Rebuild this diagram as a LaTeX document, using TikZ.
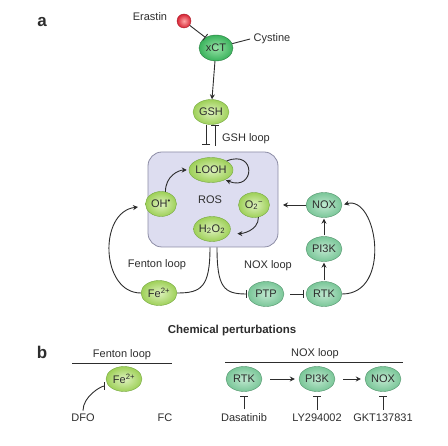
\documentclass[tikz,border=0pt]{standalone}
\usepackage{fontspec}
\setmainfont{Liberation Sans}
\usetikzlibrary{shapes.geometric, arrows.meta, positioning, calc}
\definecolor{cLeaf}{RGB}{158,208,88}
\definecolor{cLeafL}{RGB}{222,242,190}
\definecolor{cLeafD}{RGB}{118,168,66}
\definecolor{cTeal}{RGB}{122,198,152}
\definecolor{cTealL}{RGB}{192,232,208}
\definecolor{cTealD}{RGB}{82,148,108}
\definecolor{cXct}{RGB}{58,178,92}
\definecolor{cXctL}{RGB}{150,226,166}
\definecolor{cRos}{RGB}{221,221,240}
\definecolor{cRosD}{RGB}{140,140,165}
\definecolor{cInk}{RGB}{45,45,45}
\definecolor{cEra}{RGB}{214,36,52}
\definecolor{cEraL}{RGB}{255,165,165}
\tikzset{
	leaf/.style  ={ellipse, draw=cLeafD, inner color=cLeafL, outer color=cLeaf, minimum width=36pt, minimum height=25pt, inner sep=0pt},
	kin/.style   ={ellipse, draw=cTealD, inner color=cTealL, outer color=cTeal, minimum width=36pt, minimum height=25pt, inner sep=0pt},
	panel/.style ={font=\fontsize{17}{20}\selectfont\bfseries},
	sig/.style   ={-{Stealth[length=5pt, width=5pt]}, line width=0.9pt, draw=cInk},
	inh/.style   ={-{Bar[width=8pt, line width=0.9pt]}, line width=0.9pt, draw=cInk},
	rule/.style  ={line width=0.9pt, draw=cInk},
}
\begin{document}
\begin{tikzpicture}[x=1pt, y=-1pt, font=\fontsize{11}{13}\selectfont, text=cInk]
	\useasboundingbox (0,0) rectangle (448,446);
	% panel a
	\node[panel] (pa) at (42,22) {a};
	\node (era) at (150,17) {Erastin};
	\node[circle, inner sep=0pt, minimum size=14pt, draw=cEra!80!black, inner color=cEraL, outer color=cEra] (ball) at (184,21) {};
	\node[ellipse, draw=cXct!70!black, inner color=cXctL, outer color=cXct, minimum width=34pt, minimum height=26pt, inner sep=0pt] (xct) at (216,48) {xCT};
	\node (cys) at (272,39) {Cystine};
	\node[leaf] (gsh) at (211,112) {GSH};
	\node (gshl) at (246,139) {GSH loop};
	% ROS compartment
	\node[draw=cRosD, fill=cRos, rounded corners=14pt, minimum width=130pt, minimum height=95pt, line width=0.8pt] (ros) at (213,199.5) {};
	\node (rost) at (210,200) {ROS};
	\node[leaf] (looh) at (211,170) {LOOH};
	\node[leaf, minimum width=31pt] (oh) at (161,204) {OH\textsuperscript{•}};
	\node[leaf, minimum width=31pt] (o2) at (254,205) {O\textsubscript{2}\textsuperscript{−}};
	\node[leaf] (h2o2) at (212,229) {H\textsubscript{2}O\textsubscript{2}};
	% NOX loop
	\node[kin] (nox) at (324,205) {NOX};
	\node[kin] (pik) at (324,249) {PI3K};
	\node[kin] (rtk) at (324,294) {RTK};
	\node[kin] (ptp) at (266,294) {PTP};
	\node (noxl) at (268,266) {NOX loop};
	% Fenton loop
	\node[leaf] (fe) at (159,293) {Fe\textsuperscript{2+}};
	\node (fenl) at (157,265) {Fenton loop};
	\coordinate (fin) at (138,207);
	\coordinate (noxin) at (283,205);
	\coordinate (hl) at ([xshift=-2pt]h2o2.south |- ros.south);
	\coordinate (hr) at ([xshift=5pt]h2o2.south |- ros.south);

	\draw[inh] (ball) -- (xct.135);
	\draw[rule] (xct.15) -- (cys.west);
	\draw[sig] (xct) -- (gsh);
	\draw[inh, shorten >=7pt] ([xshift=-5pt]gsh.south) -- ([xshift=-5pt]gsh.south |- ros.north);
	\draw[inh, shorten <=6pt] ([xshift=4pt]gsh.south |- ros.north) -- ([xshift=4pt]gsh.south);
	\draw[sig, shorten >=1pt] (looh.30) .. controls +(30,-12) and +(30,12) .. (looh.-35);
	\draw[sig, shorten >=2pt] (oh.70) .. controls +(0,-16) and +(-10,0) .. (looh.west);
	\draw[sig, shorten >=8pt] (o2.-70) .. controls +(0,14) and +(12,0) .. (h2o2.-15);
	\draw[sig] (nox) -- (noxin);
	\draw[sig, shorten <=1pt, shorten >=1pt] (pik) -- (nox);
	\draw[sig, shorten <=1pt, shorten >=1pt] (rtk) -- (pik);
	\draw[inh, shorten <=6pt, shorten >=2pt] (ptp) -- (rtk);
	\draw[sig, shorten >=2pt] (rtk.east) .. controls +(50,0) and +(35,-10) .. (nox.east);
	\draw[rule] (hl) .. controls +(0,40) and +(24,0) .. (fe.east);
	\draw[inh, shorten >=1pt] (hr) .. controls +(0,40) and +(-24,0) .. (ptp.west);
	\draw[sig] (fe.west) .. controls +(-40,0) and +(-40,5) .. (fin);

	\node[font=\fontsize{11.5}{13}\selectfont\bfseries] (chem) at (232,331) {Chemical perturbations};

	% panel b
	\node[panel] (pb) at (42,352) {b};
	\node (fenh) at (122,355) {Fenton loop};
	\draw[rule] (72,363) -- (172,363);
	\node[leaf] (feb) at (124,379) {Fe\textsuperscript{2+}};
	\node (dfo) at (83,418) {DFO};
	\node (fc) at (165,418) {FC};
	\draw[inh, shorten >=4pt] (dfo.north) .. controls +(0,-14) and +(-8,0) .. (feb.205);

	\node (noxh) at (315,354) {NOX loop};
	\draw[rule] (225,362) -- (403,362);
	\node[kin] (rtkb) at (244,379) {RTK};
	\node[kin] (pikb) at (317,379) {PI3K};
	\node[kin] (noxb) at (383,379) {NOX};
	\node (dasa) at (244,418) {Dasatinib};
	\node (ly) at (317,418) {LY294002};
	\node (gkt) at (383,418) {GKT137831};
	\draw[sig, shorten <=8pt, shorten >=4pt] (rtkb) -- (pikb);
	\draw[sig, shorten <=8pt, shorten >=4pt] (pikb) -- (noxb);
	\draw[inh, shorten <=1pt, shorten >=4pt] (dasa) -- (rtkb);
	\draw[inh, shorten <=1pt, shorten >=4pt] (ly) -- (pikb);
	\draw[inh, shorten <=1pt, shorten >=4pt] (gkt) -- (noxb);
\end{tikzpicture}
\end{document}
